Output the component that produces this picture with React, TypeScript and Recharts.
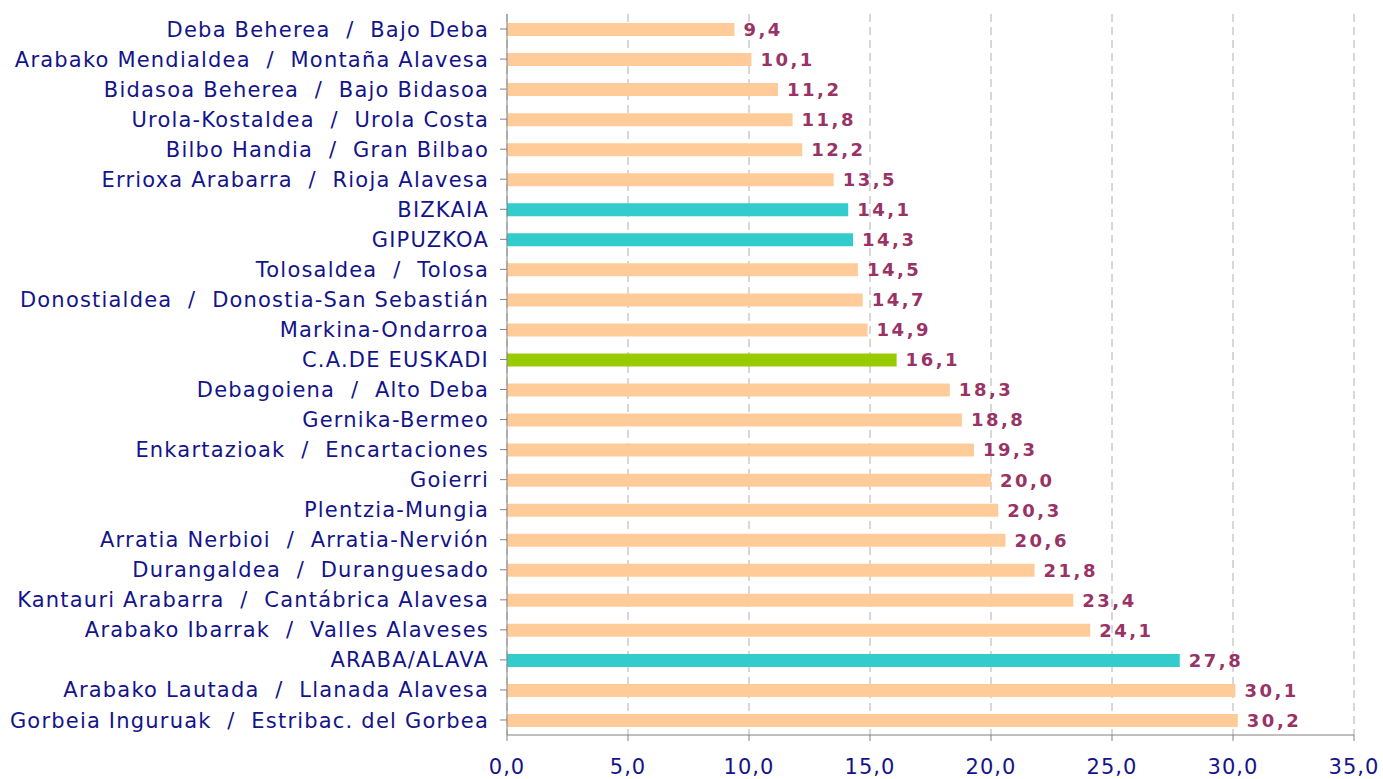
import { Bar, BarChart, CartesianGrid, Cell, LabelList, XAxis, YAxis } from "recharts";

const regions = [
  "Deba Beherea  /  Bajo Deba",
  "Arabako Mendialdea  /  Montaña Alavesa",
  "Bidasoa Beherea  /  Bajo Bidasoa",
  "Urola-Kostaldea  /  Urola Costa",
  "Bilbo Handia  /  Gran Bilbao",
  "Errioxa Arabarra  /  Rioja Alavesa",
  "BIZKAIA",
  "GIPUZKOA",
  "Tolosaldea  /  Tolosa",
  "Donostialdea  /  Donostia-San Sebastián",
  "Markina-Ondarroa",
  "C.A.DE EUSKADI",
  "Debagoiena  /  Alto Deba",
  "Gernika-Bermeo",
  "Enkartazioak  /  Encartaciones",
  "Goierri",
  "Plentzia-Mungia",
  "Arratia Nerbioi  /  Arratia-Nervión",
  "Durangaldea  /  Duranguesado",
  "Kantauri Arabarra  /  Cantábrica Alavesa",
  "Arabako Ibarrak  /  Valles Alaveses",
  "ARABA/ALAVA",
  "Arabako Lautada  /  Llanada Alavesa",
  "Gorbeia Inguruak  /  Estribac. del Gorbea",
];

const values = [
  9.4, 10.1, 11.2, 11.8, 12.2, 13.5, 14.1, 14.3, 14.5, 14.7, 14.9, 16.1, 18.3,
  18.8, 19.3, 20.0, 20.3, 20.6, 21.8, 23.4, 24.1, 27.8, 30.1, 30.2,
];

// comarca / territorio / total
const kinds = [
  "c", "c", "c", "c", "c", "c", "t", "t", "c", "c", "c", "e", "c",
  "c", "c", "c", "c", "c", "c", "c", "c", "t", "c", "c",
];

const xTicks = [0, 5, 10, 15, 20, 25, 30, 35];

const colors: Record<string, string> = {
  c: "#FFCC99",
  t: "#33CCCC",
  e: "#99CC00",
};

const data = regions.map((name, i) => ({ name, value: values[i], kind: kinds[i] }));

const fmt = (v: number) => v.toFixed(1).replace(".", ",");

const FONT = "'DejaVu Sans', Verdana, sans-serif";

function CategoryTick(props: any) {
  const { x, y, payload } = props;
  return (
    <text
      x={x - 9}
      y={y}
      dy="0.36em"
      textAnchor="end"
      fill="#14148A"
      fontSize={21}
      fontFamily={FONT}
      letterSpacing={1.2}
      style={{ whiteSpace: "pre" }}
    >
      {payload.value}
    </text>
  );
}

function ValueTick(props: any) {
  const { x, y, payload } = props;
  return (
    <text
      x={x}
      y={y + 31}
      textAnchor="middle"
      fill="#14148A"
      fontSize={21}
      fontFamily={FONT}
      letterSpacing={1}
    >
      {fmt(payload.value)}
    </text>
  );
}

export default function App() {
  return (
    <div style={{ position: "absolute", left: 0, top: 0, background: "#fff" }}>
      <BarChart
        width={1383}
        height={779}
        data={data}
        layout="vertical"
        margin={{ top: 14, right: 29, bottom: 0, left: 0 }}
        barCategoryGap={0}
      >
        <CartesianGrid
          horizontal={false}
          stroke="#B0B0B0"
          strokeDasharray="8 5"
        />
        <XAxis
          type="number"
          domain={[0, 35]}
          ticks={xTicks}
          height={44}
          stroke="#808080"
          tickSize={6}
          tick={<ValueTick />}
        />
        <YAxis
          type="category"
          dataKey="name"
          width={507}
          stroke="#808080"
          tickSize={7}
          tick={<CategoryTick />}
          interval={0}
        />
        <Bar dataKey="value" barSize={13} isAnimationActive={false}>
          {data.map((d, i) => (
            <Cell key={i} fill={colors[d.kind]} />
          ))}
          <LabelList
            dataKey="value"
            position="right"
            offset={9}
            formatter={(v: any) => fmt(Number(v))}
            fill="#993366"
            fontSize={18}
            fontWeight="bold"
            fontFamily={FONT}
            letterSpacing={2.5}
          />
        </Bar>
      </BarChart>
    </div>
  );
}
